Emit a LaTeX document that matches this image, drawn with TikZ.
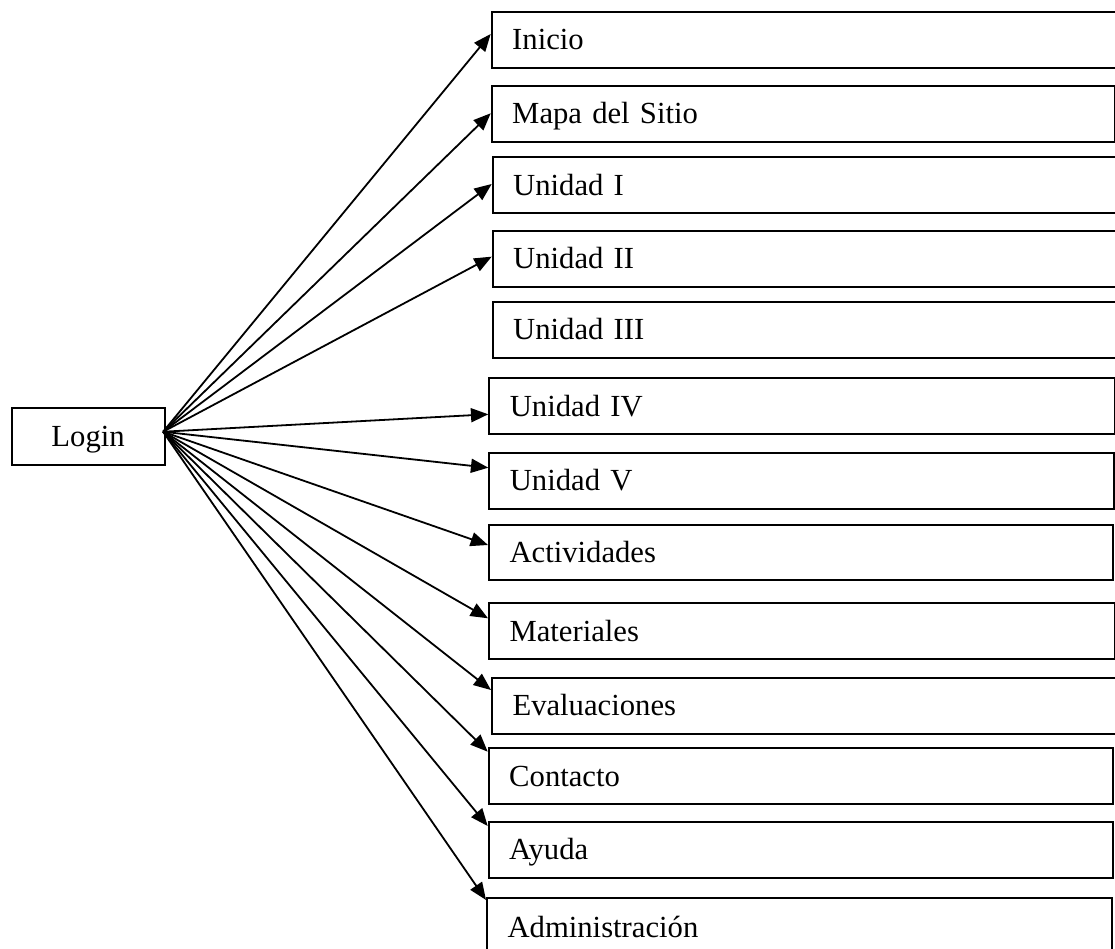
\documentclass[tikz,border=0pt]{standalone}
\usepackage{fontspec}
\setmainfont{Liberation Serif}
\usetikzlibrary{arrows.meta}

% Menu box: name, left, top, right, bottom (pixel units), label
\newcommand\menubox[6]{%
  \pgfmathsetmacro\boxw{(#4-#2)*0.75}%
  \pgfmathsetmacro\boxh{(#5-#3)*0.75}%
  \pgfmathsetmacro\boxtw{\boxw-2*15.4}%
  \node[menu, text width=\boxtw pt, minimum height=\boxh pt, anchor=north west]
    (#1) at (#2,#3) {#6};}

\tikzset{
  boxline/.style={draw=black, line width=1.5pt},
  menu/.style={boxline, rectangle, inner xsep=15.4pt, inner ysep=0pt,
    align=left, text height=16.5pt, text depth=1.5pt,
    font=\fontsize{23}{27}\selectfont},
  loginbox/.style={boxline, rectangle, inner sep=0pt, align=center,
    text height=16.5pt, text depth=1.5pt,
    font=\fontsize{23}{27}\selectfont},
  link/.style={draw=black, line width=1.35pt,
    -{Triangle[length=13pt, width=10.5pt]}}
}

\begin{document}
\begin{tikzpicture}[x=0.75pt, y=-0.75pt]
  \useasboundingbox (0,0) rectangle (1115,949);

  % Start page
  \node[loginbox, minimum width=114.6pt, minimum height=42.75pt]
    (login) at (88.1,436) {Login};
  \coordinate (hub) at ([shift={(-1.8pt,3.2pt)}]login.east);

  % Site sections
  \menubox{inicio}{490.7}{11}{1122}{66.7}{Inicio}
  \menubox{mapa}{490.7}{85}{1114.3}{140.7}{Mapa del Sitio}
  \menubox{u1}{491.7}{156}{1122}{212.3}{Unidad I}
  \menubox{u2}{491.7}{230}{1122}{285.7}{Unidad II}
  \menubox{u3}{491.7}{301}{1122}{356.7}{Unidad III}
  \menubox{u4}{488.3}{377.3}{1114}{432.7}{Unidad IV}
  \menubox{u5}{488.3}{451.7}{1112.5}{507.7}{Unidad V}
  \menubox{act}{488}{524}{1112}{579.3}{Actividades}
  \menubox{mat}{488}{602.3}{1113.5}{658.3}{Materiales}
  \menubox{eval}{491}{676.7}{1114.5}{732.7}{Evaluaciones}
  \menubox{cont}{487.7}{747.3}{1112}{803.3}{Contacto}
  \menubox{ayuda}{487.7}{821}{1112}{876.7}{Ayuda}
  \menubox{admin}{486}{897.3}{1111}{955}{Administración}

  % Links from the login page
  \draw[link] (hub) -- ([yshift=-17.25pt]inicio.north west);
  \draw[link] (hub) -- ([yshift=-21.2pt]mapa.north west);
  \draw[link] (hub) -- ([yshift=-21pt]u1.north west);
  \draw[link] (hub) -- ([yshift=-20pt]u2.north west);
  \draw[link] (hub) -- ([yshift=-27.75pt]u4.north west);
  \draw[link] (hub) -- ([yshift=-12pt]u5.north west);
  \draw[link] (hub) -- ([yshift=-15.75pt]act.north west);
  \draw[link] (hub) -- ([yshift=-12pt]mat.north west);
  \draw[link] (hub) -- ([yshift=-10pt]eval.north west);
  \draw[link] (hub) -- ([yshift=-3.3pt]cont.north west);
  \draw[link] (hub) -- ([yshift=-3.75pt]ayuda.north west);
  \draw[link] (hub) -- ([yshift=-2pt]admin.north west);
\end{tikzpicture}
\end{document}
